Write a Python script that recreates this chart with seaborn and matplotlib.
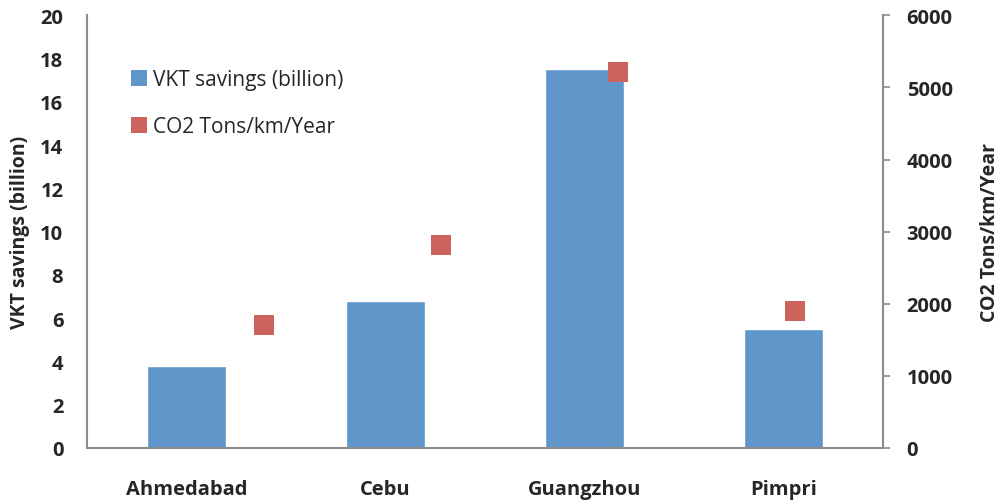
import matplotlib
matplotlib.use('Agg')
import matplotlib.pyplot as plt
from matplotlib.lines import Line2D
import seaborn as sns

# Data
cities = ['Ahmedabad', 'Cebu', 'Guangzhou', 'Pimpri']
vkt_savings = [3.8, 6.8, 17.5, 5.5]          # billion, left axis
co2_tons = [1710, 2815, 5220, 1900]          # tons/km/year, right axis
scatter_x = [1, 2, 3, 4]                     # secondary x axis (0 .. 4.5)

left_ticks = [0, 2, 4, 6, 8, 10, 12, 14, 16, 18, 20]
right_ticks = [0, 1000, 2000, 3000, 4000, 5000, 6000]

bar_color = '#6096CA'
marker_color = '#CD635D'
axis_color = '#8C8C8C'

sns.set_style('white')
plt.rcParams['font.family'] = ['Open Sans', 'DejaVu Sans']

fig = plt.figure(figsize=(10.02, 5.02), dpi=100)
rect = [0.0868, 0.1056, 0.7944, 0.862]
ax = fig.add_axes(rect)

sns.barplot(x=cities, y=vkt_savings, ax=ax, color=bar_color,
            saturation=1, width=0.4)
ax.set_xlim(-0.5, 3.5)
ax.set_ylim(0, 20)
ax.set_yticks(left_ticks)
ax.set_xticks(range(len(cities)))
ax.set_xticklabels(cities, fontsize=14.5, fontweight='bold')
ax.set_xticks([-0.5, 0.5, 1.5, 2.5, 3.5], minor=True)
ax.tick_params(axis='x', which='major', length=0, pad=22)
ax.tick_params(axis='x', which='minor', length=5, width=1.2,
               color=axis_color, direction='out')
ax.tick_params(axis='y', length=5, width=1.2, color=axis_color,
               direction='out', pad=12, labelsize=14.5)
for lbl in ax.get_yticklabels():
    lbl.set_fontweight('bold')
ax.set_ylabel('VKT savings (billion)', fontsize=14, fontweight='bold',
              labelpad=7)
ax.set_xlabel('')
for side in ['top', 'right']:
    ax.spines[side].set_visible(False)
for side in ['left', 'bottom']:
    ax.spines[side].set_color(axis_color)
    ax.spines[side].set_linewidth(1.5)

# Secondary axes for CO2 markers (own x scale, right y axis)
ax2 = fig.add_axes(rect)
ax2.patch.set_visible(False)
sns.scatterplot(x=scatter_x, y=co2_tons, ax=ax2, marker='s', s=210,
                color=marker_color, linewidth=0)
ax2.set_xlim(0, 4.5)
ax2.set_ylim(0, 6000)
ax2.set_xticks([])
ax2.yaxis.tick_right()
ax2.yaxis.set_label_position('right')
ax2.set_yticks(right_ticks)
ax2.tick_params(axis='y', length=5, width=1.2, color=axis_color,
                direction='out', pad=12, labelsize=14.5)
for lbl in ax2.get_yticklabels():
    lbl.set_fontweight('bold')
ax2.set_ylabel('CO2 Tons/km/Year', fontsize=14, fontweight='bold',
               labelpad=20)
for side in ['top', 'left', 'bottom']:
    ax2.spines[side].set_visible(False)
ax2.spines['right'].set_color(axis_color)
ax2.spines['right'].set_linewidth(1.5)

handles = [
    Line2D([], [], marker='s', linestyle='', markersize=12,
           markerfacecolor=bar_color, markeredgewidth=0),
    Line2D([], [], marker='s', linestyle='', markersize=12,
           markerfacecolor=marker_color, markeredgewidth=0),
]
fig.legend(handles, ['VKT savings (billion)', 'CO2 Tons/km/Year'],
           loc='upper left', bbox_to_anchor=(0.122, 0.877), frameon=False,
           fontsize=15, handlelength=0.8, handletextpad=0.3,
           labelspacing=1.25, borderaxespad=0)

fig.savefig('out.png', dpi=100)
